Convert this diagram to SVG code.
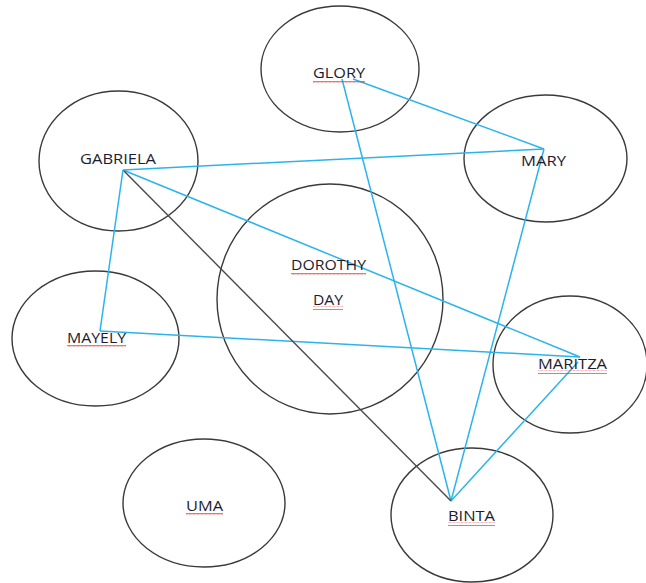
<svg xmlns="http://www.w3.org/2000/svg" width="646" height="583" viewBox="0 0 646 583">
<defs>
<style>
.node ellipse{fill:none;stroke:#3a3a3a;stroke-width:1.4}
.node text{font-family:"Open Sans","Liberation Sans",sans-serif;font-size:14px;fill:#1c1c30}
.blue{stroke:#2bb4ec;stroke-width:1.5;fill:none}
.dark{stroke:#4a4a4a;stroke-width:1.4;fill:none}
.sq{fill:url(#wave)}
</style>
<pattern id="wave" patternUnits="userSpaceOnUse" width="4" height="4">
<path d="M0 2.5 L1 1 L2 2.5 L3 1 L4 2.5" fill="none" stroke="#e23b3b" stroke-width="0.8"/>
</pattern>
</defs>
<rect width="646" height="583" fill="#ffffff"/>
<g id="GLORY" class="node"><ellipse cx="340" cy="69" rx="79" ry="63"/></g>
<g id="GABRIELA" class="node"><ellipse cx="118.5" cy="161" rx="79.5" ry="70"/></g>
<g id="MARY" class="node"><ellipse cx="545.5" cy="158.5" rx="81.5" ry="63.5"/></g>
<g id="DOROTHY_DAY" class="node"><ellipse cx="330" cy="299" rx="113" ry="115"/></g>
<g id="MAYELY" class="node"><ellipse cx="95.5" cy="338.5" rx="83.5" ry="67.5"/></g>
<g id="MARITZA" class="node"><ellipse cx="570" cy="364.5" rx="77" ry="68.5"/></g>
<g id="UMA" class="node"><ellipse cx="204" cy="503" rx="81" ry="64"/></g>
<g id="BINTA" class="node"><ellipse cx="472" cy="515" rx="81" ry="67"/></g>
<g id="connectors">
<line class="blue" x1="353" y1="79" x2="544" y2="149"/>
<line class="blue" x1="342" y1="79" x2="451" y2="501"/>
<line class="blue" x1="123" y1="170" x2="544" y2="149"/>
<line class="blue" x1="544" y1="149" x2="451" y2="501"/>
<line class="blue" x1="123" y1="170" x2="580" y2="357"/>
<line class="blue" x1="123" y1="170" x2="100" y2="331"/>
<line class="blue" x1="100" y1="331" x2="580" y2="357"/>
<line class="blue" x1="578" y1="362" x2="451" y2="501"/>
<line class="dark" x1="124" y1="171" x2="451" y2="501"/>
</g>
<g id="labels" class="node">
<text x="313" y="78" textLength="52" lengthAdjust="spacingAndGlyphs">GLORY</text>
<text x="80" y="164" textLength="76" lengthAdjust="spacingAndGlyphs">GABRIELA</text>
<text x="521" y="166" textLength="45" lengthAdjust="spacingAndGlyphs">MARY</text>
<text x="291" y="270" textLength="75" lengthAdjust="spacingAndGlyphs">DOROTHY</text>
<text x="313" y="305" textLength="30" lengthAdjust="spacingAndGlyphs">DAY</text>
<text x="67" y="343" textLength="59" lengthAdjust="spacingAndGlyphs">MAYELY</text>
<text x="538" y="369" textLength="69" lengthAdjust="spacingAndGlyphs">MARITZA</text>
<text x="186" y="511" textLength="37" lengthAdjust="spacingAndGlyphs">UMA</text>
<text x="448" y="521" textLength="47" lengthAdjust="spacingAndGlyphs">BINTA</text>
</g>
<g id="spellcheck">
<rect class="sq" x="313" y="79" width="52" height="4"/>
<rect class="sq" x="291" y="271" width="75" height="4"/>
<rect class="sq" x="313" y="306" width="30" height="4"/>
<rect class="sq" x="67" y="344" width="59" height="4"/>
<rect class="sq" x="538" y="370" width="69" height="4"/>
<rect class="sq" x="186" y="512" width="37" height="4"/>
<rect class="sq" x="448" y="522" width="47" height="4"/>
</g>
</svg>
